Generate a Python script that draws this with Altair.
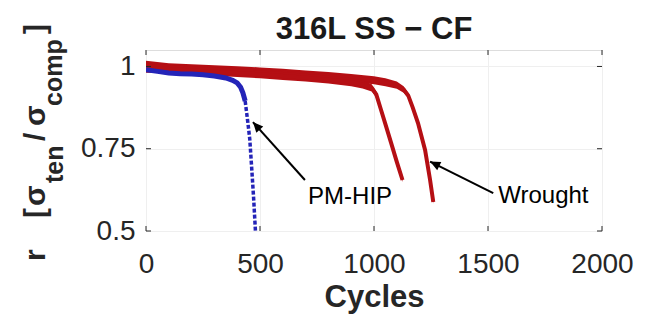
import math
import altair as alt
import pandas as pd

# ---------------- data ----------------
# Wrought test A (the one that fails first, ~1125 cycles)
wa_cycles = [0, 100, 200, 300, 400, 500, 600, 700, 800, 900, 950, 990, 1010, 1030, 1050, 1075, 1100, 1125]
wa_r      = [0.995, 0.992, 0.988, 0.984, 0.980, 0.976, 0.971, 0.966, 0.960, 0.952, 0.945, 0.935, 0.915, 0.870, 0.825, 0.768, 0.710, 0.655]
wa_spread = [0.014, 0.012, 0.012, 0.012, 0.012, 0.012, 0.012, 0.012, 0.012, 0.012, 0.012, 0.011, 0.010, 0.008, 0.008, 0.008, 0.008, 0.006]

# Wrought test B (fails at ~1260 cycles)
wb_cycles = [0, 100, 200, 300, 400, 500, 600, 700, 800, 900, 1000, 1050, 1100, 1130, 1150, 1170, 1193, 1224, 1246, 1260]
wb_r      = [1.002, 0.998, 0.995, 0.992, 0.989, 0.985, 0.981, 0.976, 0.971, 0.965, 0.958, 0.952, 0.943, 0.930, 0.912, 0.875, 0.828, 0.746, 0.655, 0.588]
wb_spread = [0.015, 0.012, 0.012, 0.012, 0.012, 0.012, 0.012, 0.012, 0.012, 0.012, 0.012, 0.012, 0.011, 0.010, 0.008, 0.008, 0.008, 0.008, 0.007, 0.005]

# PM-HIP
pm_cycles = [0, 50, 100, 150, 200, 250, 300, 350, 380, 400, 415, 425, 435, 447, 455, 465, 472, 480]
pm_r      = [0.990, 0.985, 0.980, 0.978, 0.977, 0.975, 0.971, 0.965, 0.958, 0.950, 0.937, 0.920, 0.895, 0.828, 0.780, 0.676, 0.600, 0.500]

# tick labels
x_ticks = [0, 500, 1000, 1500, 2000]
y_ticks = [0.5, 0.75, 1.0]

# annotations (label text, label position, arrow tail, arrow tip) in data units
ann_text   = ["PM-HIP", "Wrought"]
ann_x      = [895, 1743]
ann_y      = [0.603, 0.606]
arrow_x    = [697, 1523]
arrow_y    = [0.655, 0.615]
arrow_x2   = [469, 1246]
arrow_y2   = [0.831, 0.711]

chart_title = "316L SS − CF"

# ---------------- layout / style ----------------
W, H = 456, 181
X_DOM = [0, 2000]
Y_DOM = [0.5, 1.05]
FONT = "Liberation Sans"
RED = "#b50f14"
BLUE = "#2424b8"
INK = "#262626"

xs = alt.Scale(domain=X_DOM, nice=False)
ys = alt.Scale(domain=Y_DOM, nice=False, zero=False)


def band_df(c, r, s):
    return pd.DataFrame({"cycles": c, "r": r,
                         "hi": [a + b for a, b in zip(r, s)],
                         "lo": [a - b for a, b in zip(r, s)]})


wa = band_df(wa_cycles, wa_r, wa_spread)
wb = band_df(wb_cycles, wb_r, wb_spread)
pm = pd.DataFrame({"cycles": pm_cycles, "r": pm_r})

x_axis = alt.Axis(values=x_ticks, format="d", labelFontSize=28, labelFont=FONT, labelColor=INK,
                  tickSize=0, domain=False, grid=True, gridColor="#efefef",
                  labelPadding=19, title="Cycles", titleFontSize=31, titleFont=FONT,
                  titleFontWeight="bold", titleColor=INK, titlePadding=4, labelFlush=False)
y_axis = alt.Axis(values=y_ticks, format=".3~g", labelFontSize=28, labelFont=FONT, labelColor=INK,
                  tickSize=0, domain=False, grid=True, gridColor="#efefef",
                  labelPadding=11, title=None)

X = lambda f="cycles": alt.X(f"{f}:Q", scale=xs, axis=x_axis)
Y = lambda f="r": alt.Y(f"{f}:Q", scale=ys, axis=y_axis)

layers = []
for df in (wb, wa):
    layers.append(alt.Chart(df).mark_area(color=RED, clip=True).encode(
        x=X(), y=Y("hi"), y2="lo:Q"))
    layers.append(alt.Chart(df).mark_line(color=RED, strokeWidth=4, clip=True).encode(
        x=X(), y=Y()))

pm_flat = pm[pm["cycles"] <= 435]
pm_drop = pm[pm["cycles"] >= 435]
layers.append(alt.Chart(pm_flat).mark_line(color=BLUE, strokeWidth=5, clip=True).encode(x=X(), y=Y()))
layers.append(alt.Chart(pm_drop).mark_line(color=BLUE, strokeWidth=3.5, strokeDash=[4, 2], clip=True).encode(x=X(), y=Y()))

# inward ticks on all four sides
xt = pd.DataFrame({"t": x_ticks})
yt = pd.DataFrame({"t": y_ticks})
TL = 5
layers.append(alt.Chart(xt).mark_rule(color=INK, strokeWidth=1).encode(
    x=alt.X("t:Q", scale=xs, axis=x_axis), y=alt.value(H), y2=alt.value(H - TL)))
layers.append(alt.Chart(xt).mark_rule(color=INK, strokeWidth=1).encode(
    x=alt.X("t:Q", scale=xs, axis=x_axis), y=alt.value(0), y2=alt.value(TL)))
layers.append(alt.Chart(yt).mark_rule(color=INK, strokeWidth=1).encode(
    y=alt.Y("t:Q", scale=ys, axis=y_axis), x=alt.value(0), x2=alt.value(TL)))
layers.append(alt.Chart(yt).mark_rule(color=INK, strokeWidth=1).encode(
    y=alt.Y("t:Q", scale=ys, axis=y_axis), x=alt.value(W - TL), x2=alt.value(W)))

# arrows
ang = []
for x1, y1, x2, y2 in zip(arrow_x, arrow_y, arrow_x2, arrow_y2):
    dx = (x2 - x1) * W / (X_DOM[1] - X_DOM[0])
    dy = -(y2 - y1) * H / (Y_DOM[1] - Y_DOM[0])
    ang.append(math.degrees(math.atan2(dx, -dy)) % 360)
arr = pd.DataFrame({"x": arrow_x, "y": arrow_y, "x2": arrow_x2, "y2": arrow_y2, "ang": ang})
layers.append(alt.Chart(arr).mark_rule(color="black", strokeWidth=2).encode(
    x=alt.X("x:Q", scale=xs, axis=x_axis), y=alt.Y("y:Q", scale=ys, axis=y_axis),
    x2="x2:Q", y2="y2:Q"))
layers.append(alt.Chart(arr).mark_point(shape="M0,0 L-0.45,1 L0.45,1 Z", filled=True, opacity=1,
                                         color="black", size=420).encode(
    x=alt.X("x2:Q", scale=xs, axis=x_axis), y=alt.Y("y2:Q", scale=ys, axis=y_axis),
    angle=alt.Angle("ang:Q", scale=None)))

ann = pd.DataFrame({"t": ann_text, "x": ann_x, "y": ann_y})
layers.append(alt.Chart(ann).mark_text(font=FONT, fontSize=24, color="black", align="center",
                                       baseline="middle").encode(
    x=alt.X("x:Q", scale=xs, axis=x_axis), y=alt.Y("y:Q", scale=ys, axis=y_axis), text="t:N"))

dummy = pd.DataFrame({"a": [0]})

# chart title as a text mark above the plot frame
layers.append(alt.Chart(dummy).mark_text(
    text=chart_title, align="center", baseline="alphabetic", font=FONT, fontSize=31,
    fontWeight="bold", color="#1a1a1a").encode(x=alt.value(W / 2), y=alt.value(-11)))

# y-axis title built from pieces (with subscripts)
ytitle_text = ["r", "[", "σ", "ten", "/", "σ", "comp", "]"]
ytitle_sub  = [False, False, False, True, False, False, True, False]
ytitle_px   = [-101, -101, -101, -83, -101, -101, -84, -101]
ytitle_py   = [211, 168, 156, 133, 91, 76, 56, -16]
for t, sub, px, py in zip(ytitle_text, ytitle_sub, ytitle_px, ytitle_py):
    layers.append(alt.Chart(dummy).mark_text(
        text=t, angle=270, align="left", baseline="alphabetic", font=FONT,
        fontSize=25 if sub else 30, fontWeight="bold", color=INK).encode(
        x=alt.value(px), y=alt.value(py)))

chart = alt.layer(*layers).properties(
    width=W, height=H,
    autosize=alt.AutoSizeParams(type="none"),
    padding={"left": 146, "top": 50, "right": 648 - 146 - W, "bottom": 323 - 50 - H},
).configure_view(stroke=INK, strokeWidth=1).configure(background="white")

chart.save("out.html", embed_options={"renderer": "svg", "actions": False})
